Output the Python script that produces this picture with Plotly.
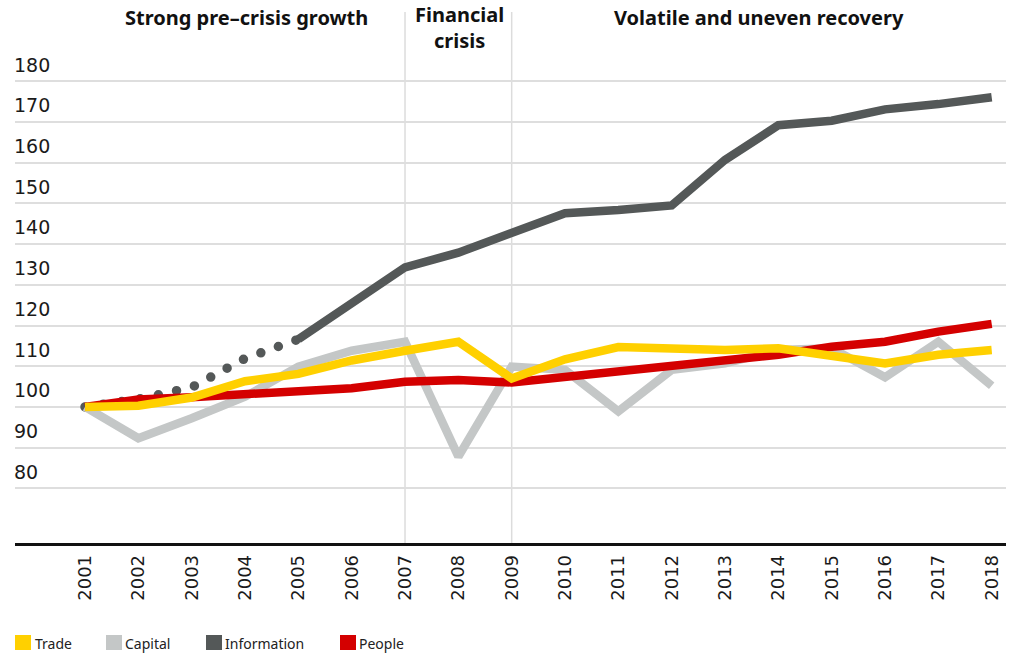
import plotly.graph_objects as go

years = list(range(2001, 2019))
trade = [100, 100.3, 102.3, 106.3, 108.1, 111.4, 113.8, 116.0, 107.0, 111.7, 114.7, 114.2, 114.0, 114.4, 112.8, 110.7, 112.8, 114.0]
capital = [100, 92.3, 97.2, 102.5, 109.9, 113.8, 116.0, 87.8, 109.9, 109.1, 98.9, 109.1, 110.7, 114.0, 114.4, 107.3, 116.0, 105.2]
information = [100, 101.9, 104.8, 111.9, 116.6, 125.5, 134.3, 137.9, 142.7, 147.6, 148.4, 149.5, 160.7, 169.2, 170.3, 173.1, 174.4, 176.1]
people = [100, 101.8, 102.4, 103.3, 104.0, 104.6, 106.2, 106.6, 106.0, 107.4, 109.1, 110.0, 111.5, 112.8, 114.8, 116.0, 118.5, 120.4]

series_names = ["Trade", "Capital", "Information", "People"]
colors = {"Trade": "#ffd000", "Capital": "#c4c7c7", "Information": "#545858", "People": "#d40000"}
ytick_vals = [80, 90, 100, 110, 120, 130, 140, 150, 160, 170, 180]
headers = ["Strong pre\u2013crisis growth", "Financial<br>crisis", "Volatile and uneven recovery"]
divider_years = [2007, 2009]
dotted_until = 2005

W, H = 1015, 653
ML, MR, MT, MB = 15, 9, 10, 110
plot_w = W - ML - MR
plot_h = H - MT - MB


def px_x(px):
    return (px - ML) / plot_w


def px_y(py):
    return (H - MB - py) / plot_h


fig = go.Figure()

lw = 8.5
k = years.index(dotted_until)
# Information: dotted then solid
fig.add_trace(go.Scatter(x=years[:k + 1], y=information[:k + 1], mode="lines",
                         line=dict(color=colors["Information"], width=9.5, dash="0px,18.6px"),
                         showlegend=False, hoverinfo="skip"))
fig.add_trace(go.Scatter(x=years[k:], y=information[k:], mode="lines",
                         line=dict(color=colors["Information"], width=lw),
                         showlegend=False))
fig.add_trace(go.Scatter(x=years, y=capital, mode="lines",
                         line=dict(color=colors["Capital"], width=lw), showlegend=False))
fig.add_trace(go.Scatter(x=years, y=people, mode="lines",
                         line=dict(color=colors["People"], width=lw), showlegend=False))
fig.add_trace(go.Scatter(x=years, y=trade, mode="lines",
                         line=dict(color=colors["Trade"], width=lw), showlegend=False))

# divider lines
for yr in divider_years:
    fig.add_shape(type="line", xref="x", yref="paper", x0=yr, x1=yr, y0=0, y1=px_y(12),
                  line=dict(color="#dcdcdc", width=1.5), layer="below")

# headers
hdr_font = dict(family="Noto Sans", size=20, color="#111111")
header_pos = [(246, 18), (459, 28), (759, 18)]
for txt, (hx, hy) in zip(headers, header_pos):
    fig.add_annotation(text="<b>" + txt + "</b>", xref="paper", yref="paper",
                       x=px_x(hx), y=px_y(hy), showarrow=False, xanchor="center", yanchor="middle",
                       font=hdr_font, align="center")

# legend (manual)
legend_pos = [(15, 35), (106, 125), (206, 225), (340, 359)]
for name, (sx, tx) in zip(series_names, legend_pos):
    fig.add_shape(type="rect", xref="paper", yref="paper",
                  x0=px_x(sx), x1=px_x(sx + 16), y0=px_y(650), y1=px_y(635),
                  fillcolor=colors[name], line=dict(width=0))
    fig.add_annotation(text=name, xref="paper", yref="paper", x=px_x(tx - 2), y=px_y(643),
                       xanchor="left", yanchor="middle", showarrow=False,
                       font=dict(family="Noto Sans", size=14, color="#222222"))

y_bottom = 80 - (543 - 488.3) / 4.07
y_top = y_bottom + plot_h / 4.07

fig.update_layout(
    width=W, height=H,
    margin=dict(l=ML, r=MR, t=MT, b=MB),
    plot_bgcolor="white", paper_bgcolor="white",
    xaxis=dict(range=[2001 - (85 - ML) / 53.33, 2018 + (1006 - 991.7) / 53.33],
               tickvals=years, ticktext=[str(y) for y in years], tickangle=-90,
               showgrid=False, zeroline=False, showline=True, linecolor="#111111", linewidth=2.5,
               ticks="", ticklabelstandoff=2,
               tickfont=dict(family="DejaVu Sans", size=18, color="#1a1a1a")),
    yaxis=dict(range=[y_bottom, y_top], tickvals=ytick_vals,
               ticktext=[str(v) for v in ytick_vals],
               ticklabelposition="inside top", ticklabelshift=-3, ticklabelstandoff=-4,
               showgrid=True, gridcolor="#dedede", gridwidth=1.5,
               zeroline=False, showline=False, ticks="",
               tickfont=dict(family="DejaVu Sans", size=19, color="#1a1a1a")),
    showlegend=False,
)

post_js = """
document.body.style.margin = '0';
document.body.style.padding = '0';
var gd = document.getElementById('{plot_id}');
function fixDots(){
  var p = gd.querySelectorAll('.scatterlayer path.js-line');
  p.forEach(function(el){
    var d = el.style.strokeDasharray || el.getAttribute('stroke-dasharray') || '';
    if (d.trim().indexOf('0') === 0) { el.style.strokeLinecap = 'round'; }
  });
}
fixDots();
gd.on('plotly_afterplot', fixDots);
"""

fig.write_html("out.html", post_script=post_js, config={"displayModeBar": False})
